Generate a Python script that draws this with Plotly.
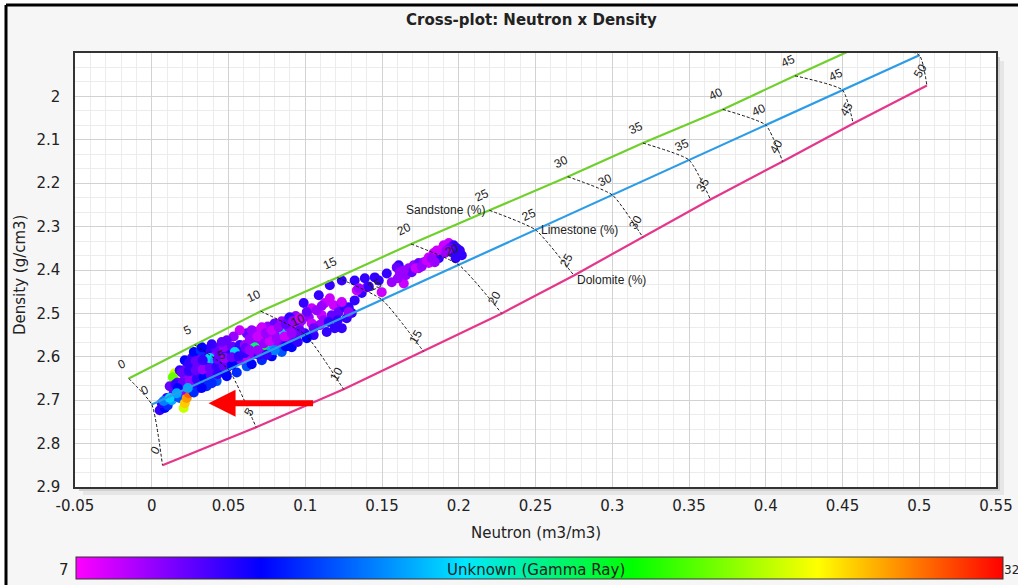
import plotly.graph_objects as go

# ---- lithology reference lines (porosity in %) ----
porosity = [0, 5, 10, 15, 20, 25, 30, 35, 40, 45, 50]
sand_neutron = [-0.015, 0.028, 0.071, 0.121, 0.169, 0.220, 0.271, 0.320, 0.372, 0.419, 0.467]
sand_density = [2.65, 2.5725, 2.495, 2.4175, 2.34, 2.2625, 2.185, 2.1075, 2.03, 1.9525, 1.875]
lime_neutron = [0.0, 0.05, 0.10, 0.15, 0.20, 0.25, 0.30, 0.35, 0.40, 0.45, 0.50]
lime_density = [2.71, 2.6295, 2.549, 2.4685, 2.388, 2.3075, 2.227, 2.1465, 2.066, 1.9855, 1.905]
dolo_neutron = [0.007, 0.068, 0.125, 0.177, 0.228, 0.275, 0.320, 0.364, 0.411, 0.457, 0.505]
dolo_density = [2.85, 2.7625, 2.675, 2.5875, 2.5, 2.4125, 2.325, 2.2375, 2.15, 2.0625, 1.975]

# ---- log samples: neutron (m3/m3), bulk density (g/cm3), gamma ray ----
neutron = [
    0.0052, 0.0085, 0.0065, 0.0104, 0.0130, 0.0098, 0.0163, 0.0143, 0.0078, 0.0182,
    0.0208, 0.0215, 0.0228, 0.0241, 0.0254, 0.0313, 0.0150, 0.0137,
    0.0195, 0.0235, 0.0274, 0.0319, 0.0365, 0.0410,
    0.0169, 0.0215, 0.0261, 0.0306, 0.0352, 0.0397, 0.0443, 0.0489,
    0.0182, 0.0228, 0.0274, 0.0319, 0.0365, 0.0410, 0.0456, 0.0502, 0.0547,
    0.0215, 0.0261, 0.0306, 0.0352, 0.0397, 0.0443, 0.0489, 0.0534, 0.0580,
    0.0274, 0.0319, 0.0365, 0.0417, 0.0469, 0.0521, 0.0573,
    0.0378, 0.0410,
    0.0358, 0.0423, 0.0489, 0.0554, 0.0619,
    0.0586, 0.0625, 0.0664, 0.0704, 0.0743, 0.0782, 0.0821, 0.0860, 0.0899, 0.0938,
    0.0606, 0.0645, 0.0684, 0.0723, 0.0762, 0.0801, 0.0840, 0.0879, 0.0919, 0.0958,
    0.0619, 0.0664, 0.0710, 0.0756, 0.0801, 0.0847, 0.0893, 0.0938,
    0.0651, 0.0717, 0.0782, 0.0847, 0.0912,
    0.0671, 0.0736, 0.0847, 0.0782, 0.0541,
    0.0573, 0.0534, 0.0489,
    0.1160, 0.1088, 0.0990, 0.0899, 0.1042, 0.1127, 0.1160, 0.1186, 0.1107, 0.1023,
    0.0945, 0.1238, 0.1283, 0.1322, 0.1368, 0.1401, 0.1336, 0.1238, 0.1192, 0.1140,
    0.1055, 0.0997, 0.0801, 0.0893, 0.0717, 0.0651, 0.0606, 0.0697, 0.0801,
    0.0977, 0.1042, 0.1094, 0.1010, 0.1075, 0.0964, 0.1107, 0.1218, 0.1270, 0.1303,
    0.1238, 0.1322, 0.1414, 0.1479, 0.1531, 0.1609, 0.1498, 0.1349, 0.1257, 0.1283,
    0.1238, 0.1453, 0.1388,
    0.1596, 0.1616, 0.1629, 0.1642, 0.1674, 0.1707, 0.1739, 0.1772, 0.1805, 0.1837,
    0.1870, 0.1876, 0.1902, 0.1935, 0.1967, 0.1987, 0.2007, 0.1954, 0.1909, 0.1805,
    0.1739, 0.1655, 0.1694, 0.1844, 0.1941, 0.2020,
    # dense lower body
    0.0117, 0.0156, 0.0202, 0.0248, 0.0293, 0.0339, 0.0384, 0.0430, 0.0476,
    0.0195, 0.0241, 0.0287, 0.0332, 0.0378, 0.0423, 0.0469, 0.0521,
    0.0241, 0.0287, 0.0332, 0.0430, 0.0476, 0.0521, 0.0567,
    0.0326, 0.0391, 0.0456, 0.0612, 0.0169, 0.0274, 0.0326, 0.0391,
    # middle band
    0.0638, 0.0690, 0.0730, 0.0769, 0.0814, 0.0866, 0.0912,
    0.0638, 0.0690, 0.0743, 0.0782, 0.0827, 0.0873, 0.0919, 0.0964,
    0.0749, 0.0873, 0.0951, 0.1010, 0.1055, 0.1120, 0.1173, 0.1153, 0.1212,
    # upper streak
    0.1642, 0.1720, 0.1759, 0.1792, 0.1824, 0.1857, 0.1922, 0.1980, 0.1603, 0.1564,
    # light-blue samples near the origin
    0.0117, 0.0163, 0.0235,
]
density = [
    2.723, 2.718, 2.707, 2.712, 2.700, 2.695, 2.691, 2.682, 2.702, 2.695,
    2.718, 2.707, 2.695, 2.684, 2.675, 2.672, 2.638, 2.647,
    2.677, 2.668, 2.663, 2.659, 2.654, 2.649,
    2.659, 2.652, 2.647, 2.642, 2.638, 2.633, 2.631, 2.626,
    2.631, 2.626, 2.622, 2.619, 2.617, 2.615, 2.612, 2.610, 2.608,
    2.608, 2.603, 2.599, 2.596, 2.596, 2.594, 2.592, 2.589, 2.587,
    2.589, 2.585, 2.583, 2.580, 2.578, 2.576, 2.573,
    2.603, 2.610,
    2.668, 2.656, 2.645, 2.636, 2.622,
    2.608, 2.601, 2.594, 2.589, 2.582, 2.578, 2.571, 2.564, 2.559, 2.555,
    2.573, 2.566, 2.562, 2.557, 2.553, 2.548, 2.541, 2.536, 2.532, 2.527,
    2.546, 2.541, 2.536, 2.530, 2.523, 2.518, 2.511, 2.506,
    2.617, 2.608, 2.599, 2.589, 2.578,
    2.578, 2.573, 2.543, 2.585, 2.589,
    2.539, 2.553, 2.562,
    2.435, 2.458, 2.476, 2.509, 2.488, 2.476, 2.465, 2.481, 2.504, 2.509,
    2.516, 2.476, 2.486, 2.470, 2.453, 2.440, 2.447, 2.534, 2.534, 2.543,
    2.550, 2.546, 2.550, 2.532, 2.532, 2.539, 2.592, 2.596, 2.585,
    2.516, 2.523, 2.527, 2.497, 2.493, 2.539, 2.483, 2.497, 2.511, 2.499,
    2.424, 2.424, 2.438, 2.424, 2.408, 2.389, 2.451, 2.442, 2.486, 2.497,
    2.474, 2.417, 2.419,
    2.394, 2.405, 2.419, 2.431, 2.396, 2.389, 2.384, 2.382, 2.371, 2.361,
    2.373, 2.355, 2.343, 2.338, 2.343, 2.350, 2.355, 2.359, 2.361, 2.384,
    2.396, 2.412, 2.405, 2.382, 2.350, 2.366,
    2.668, 2.663, 2.659, 2.656, 2.652, 2.647, 2.642, 2.640, 2.636,
    2.636, 2.633, 2.631, 2.629, 2.626, 2.622, 2.622, 2.619,
    2.615, 2.610, 2.608, 2.606, 2.603, 2.601, 2.599,
    2.578, 2.571, 2.566, 2.580, 2.672, 2.682, 2.672, 2.661,
    2.585, 2.585, 2.569, 2.564, 2.559, 2.553, 2.546,
    2.559, 2.553, 2.546, 2.539, 2.532, 2.525, 2.518, 2.511,
    2.596, 2.576, 2.566, 2.557, 2.534, 2.516, 2.504, 2.520, 2.516,
    2.401, 2.396, 2.392, 2.378, 2.373, 2.355, 2.355, 2.373, 2.419, 2.428,
    2.695, 2.684, 2.672,
]
gamma_ray = [
    11, 12, 11, 13, 16, 11, 11, 10, 15, 14,
    26, 28, 29, 30, 31, 8, 26, 24,
    9, 10, 11, 10, 9, 12,
    10, 9, 10, 11, 10, 12, 11, 10,
    11, 10, 9, 10, 11, 12, 10, 9, 11,
    12, 11, 10, 11, 9, 10, 11, 12, 10,
    12, 13, 11, 10, 9, 10, 11,
    17, 16,
    13, 14, 12, 13, 14,
    9, 8, 9, 10, 9, 8, 9, 10, 9, 10,
    9, 8, 9, 8, 9, 8, 9, 8, 9, 8,
    10, 9, 8, 9, 10, 9, 10, 9,
    12, 13, 12, 14, 12,
    20, 21, 17, 16, 17,
    8, 9, 10,
    11, 11, 11, 11, 8, 8, 8, 8, 8, 9,
    9, 11, 11, 11, 11, 9, 8, 11, 11, 11,
    11, 11, 9, 9, 8, 9, 11, 11, 15,
    9, 8, 9, 10, 9, 10, 9, 10, 11, 11,
    11, 11, 11, 11, 11, 11, 8, 9, 11, 9,
    8, 11, 11,
    10, 9, 9, 8, 9, 9, 10, 9, 8, 8,
    11, 8, 8, 8, 11, 11, 11, 11, 9, 8,
    9, 9, 10, 9, 10, 11,
    10, 11, 10, 9, 11, 12, 10, 11, 12,
    10, 11, 10, 9, 10, 11, 10, 12,
    11, 10, 11, 10, 9, 10, 11,
    12, 11, 10, 10, 12, 13, 12, 13,
    9, 9, 9, 8, 9, 8, 9,
    9, 8, 9, 8, 9, 10, 9, 8,
    11, 12, 11, 12, 10, 9, 10, 11, 11,
    9, 8, 9, 8, 9, 8, 9, 11, 9, 9,
    17, 16, 16,
]

x_ticks = [-0.05, 0, 0.05, 0.1, 0.15, 0.2, 0.25, 0.3, 0.35, 0.4, 0.45, 0.5, 0.55]
x_tick_text = ["-0.05", "0", "0.05", "0.1", "0.15", "0.2", "0.25", "0.3", "0.35", "0.4", "0.45", "0.5", "0.55"]
y_ticks = [2.0, 2.1, 2.2, 2.3, 2.4, 2.5, 2.6, 2.7, 2.8, 2.9]
y_tick_text = ["2", "2.1", "2.2", "2.3", "2.4", "2.5", "2.6", "2.7", "2.8", "2.9"]
gr_min, gr_max = 7, 32

# ---- page geometry (pixels) ----
W, H = 1018, 585
PL, PR, PT, PB = 75, 996, 53, 487


def fx(p):
    return (p - PL) / (PR - PL)


def fy(p):
    return (PB - p) / (PB - PT)


SAND_C = "#6fd02c"
LIME_C = "#2c9ce6"
DOLO_C = "#e4368b"
LABEL_FONT = dict(family="Liberation Sans, Arial, sans-serif", size=12, color="#222222")
TICK_FONT = dict(family="DejaVu Sans, Verdana, sans-serif", size=15, color="#222222")
AXIS_FONT = dict(family="DejaVu Sans, Verdana, sans-serif", size=15, color="#222222")

gr_scale = [
    [0.0, "#ff00ff"],
    [0.2, "#0000ff"],
    [0.42, "#00e8ff"],
    [0.6, "#00ff00"],
    [0.8, "#ffff00"],
    [1.0, "#ff0000"],
]

fig = go.Figure()

fig.add_trace(go.Scatter(
    x=neutron, y=density, mode="markers",
    marker=dict(size=10, color=gamma_ray, coloraxis="coloraxis", line=dict(width=0)),
    showlegend=False, hoverinfo="skip",
))

# lithology lines
for xs, ys, col in [(sand_neutron, sand_density, SAND_C),
                    (lime_neutron, lime_density, LIME_C),
                    (dolo_neutron, dolo_density, DOLO_C)]:
    fig.add_trace(go.Scatter(x=xs, y=ys, mode="lines",
                             line=dict(color=col, width=2.2),
                             showlegend=False, hoverinfo="skip"))

# iso-porosity connectors
for i, p in enumerate(porosity):
    fig.add_trace(go.Scatter(
        x=[sand_neutron[i], lime_neutron[i], dolo_neutron[i]],
        y=[sand_density[i], lime_density[i], dolo_density[i]],
        mode="lines", line=dict(color="#111111", width=1, dash="3px,2px", shape="spline", smoothing=0.5),
        showlegend=False, hoverinfo="skip"))

annotations = []
# porosity labels along each line
for xs, ys, ang in [(sand_neutron, sand_density, -25),
                    (lime_neutron, lime_density, -25),
                    (dolo_neutron, dolo_density, -60)]:
    for i, p in enumerate(porosity):
        if ys[i] < 1.92:
            continue
        annotations.append(dict(
            x=xs[i], y=ys[i], xref="x", yref="y", text=str(p), showarrow=False,
            textangle=ang, xshift=-7, yshift=15, font=LABEL_FONT))

k = porosity.index(25)
annotations += [
    dict(x=sand_neutron[k], y=sand_density[k], xref="x", yref="y", text="Sandstone (%)",
         showarrow=False, xanchor="right", xshift=-2, font=LABEL_FONT),
    dict(x=lime_neutron[k], y=lime_density[k], xref="x", yref="y", text="Limestone (%)",
         showarrow=False, xanchor="left", xshift=3, font=LABEL_FONT),
    dict(x=dolo_neutron[k], y=dolo_density[k], xref="x", yref="y", text="Dolomite (%)",
         showarrow=False, xanchor="left", xshift=1, yshift=-5, font=LABEL_FONT),
]

# red pointer
annotations.append(dict(
    x=0.037, y=2.707, xref="x", yref="y", ax=106, ay=0, axref="pixel", ayref="pixel",
    showarrow=True, arrowhead=2, arrowsize=0.9, arrowwidth=6, arrowcolor="#ff0000", text=""))

# titles and colour bar text
mid = dict(xanchor="center", yanchor="middle", showarrow=False, xref="paper", yref="paper")
annotations += [
    dict(x=fx(531), y=fy(20), text="<b>Cross-plot: Neutron x Density</b>",
         font=dict(family="DejaVu Sans, Verdana, sans-serif", size=15, color="#222222"), **mid),
    dict(x=fx(536), y=fy(533), text="Neutron (m3/m3)", font=AXIS_FONT, **mid),
    dict(x=fx(20), y=fy(275), text="Density (g/cm3)", textangle=-90, font=AXIS_FONT, **mid),
    dict(x=fx(536), y=fy(570), text="Unknown (Gamma Ray)", font=AXIS_FONT, **mid),
    dict(x=fx(64), y=fy(570), text=str(gr_min), font=AXIS_FONT, **mid),
    dict(x=fx(1011), y=fy(570), text=str(gr_max),
         font=dict(family="DejaVu Sans, Verdana, sans-serif", size=12, color="#222222"), **mid),
]

shapes = [
    # grey page inside the frame
    dict(type="rect", xref="paper", yref="paper", x0=fx(6), x1=fx(1030), y0=fy(600), y1=fy(5),
         fillcolor="#f6f6f6", line=dict(width=0), layer="below"),
    # soft shadow of the plot panel
    dict(type="rect", xref="paper", yref="paper", x0=fx(PL + 8), x1=fx(PR + 8), y0=fy(PB + 8), y1=fy(PT + 8),
         fillcolor="#e6e6e6", line=dict(width=0), layer="below"),
    dict(type="rect", xref="paper", yref="paper", x0=fx(PL + 4), x1=fx(PR + 4), y0=fy(PB + 4), y1=fy(PT + 4),
         fillcolor="#d2d2d2", line=dict(width=0), layer="below"),
    # white plot panel
    dict(type="rect", xref="paper", yref="paper", x0=0, x1=1, y0=0, y1=1,
         fillcolor="#ffffff", line=dict(width=0), layer="below"),
    # outer frame
    dict(type="line", xref="paper", yref="paper", x0=fx(6), x1=fx(6), y0=fy(600), y1=fy(5),
         line=dict(color="#000000", width=3)),
    dict(type="line", xref="paper", yref="paper", x0=fx(6), x1=fx(1030), y0=fy(5), y1=fy(5),
         line=dict(color="#000000", width=3)),
]

fig.update_layout(
    width=W, height=H,
    margin=dict(l=PL, r=W - PR, t=PT, b=H - PB, autoexpand=False),
    paper_bgcolor="#ffffff", plot_bgcolor="#ffffff",
    annotations=annotations, shapes=shapes,
    coloraxis=dict(
        cmin=gr_min, cmax=gr_max, colorscale=gr_scale,
        colorbar=dict(
            orientation="h", x=fx(76), xanchor="left", y=fy(580), yanchor="bottom",
            lenmode="pixels", len=927, thicknessmode="pixels", thickness=22,
            xpad=0, ypad=0, outlinewidth=1, outlinecolor="#333333",
            showticklabels=False, ticks="",
        ),
    ),
    xaxis=dict(
        range=[-0.05, 0.55], tickvals=x_ticks, ticktext=x_tick_text,
        showgrid=True, gridcolor="#d2d2d2", gridwidth=1, zeroline=False,
        showline=True, linecolor="#333333", linewidth=1.5, mirror=True,
        ticks="", ticklabelstandoff=4, tickfont=TICK_FONT,
        minor=dict(dtick=0.01, tick0=0, showgrid=True, gridcolor="#ececec", gridwidth=1),
    ),
    yaxis=dict(
        range=[2.9, 1.9], tickvals=y_ticks, ticktext=y_tick_text,
        showgrid=True, gridcolor="#d2d2d2", gridwidth=1, zeroline=False,
        showline=True, linecolor="#333333", linewidth=1.5, mirror=True,
        ticks="", ticklabelstandoff=10, tickfont=TICK_FONT,
        minor=dict(dtick=0.1 / 3, tick0=1.9, showgrid=True, gridcolor="#ececec", gridwidth=1),
    ),
)

fig.write_html("out.html")
